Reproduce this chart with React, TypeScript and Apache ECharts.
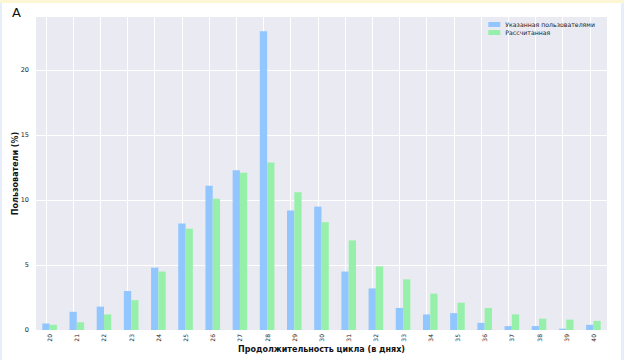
import React, { useEffect, useRef } from "react";
import * as echarts from "echarts";

const days = ["20","21","22","23","24","25","26","27","28","29","30","31","32","33","34","35","36","37","38","39","40"];
const reported = [0.5, 1.4, 1.8, 3.0, 4.8, 8.2, 11.1, 12.3, 23.0, 9.2, 9.5, 4.5, 3.2, 1.7, 1.2, 1.3, 0.55, 0.3, 0.3, 0.1, 0.4];
const calculated = [0.4, 0.6, 1.2, 2.3, 4.5, 7.8, 10.1, 12.1, 12.9, 10.6, 8.3, 6.9, 4.9, 3.9, 2.8, 2.1, 1.7, 1.2, 0.87, 0.8, 0.7];
const seriesNames = ["Указанная пользователями", "Рассчитанная"];
const xTitle = "Продолжительность цикла (в днях)";
const yTitle = "Пользователи (%)";
const panelLabel = "A";

export default function App() {
  const ref = useRef<HTMLDivElement>(null);
  useEffect(() => {
    if (!ref.current) return;
    const chart = echarts.init(ref.current, null, { renderer: "svg" });
    const font = "DejaVu Sans";
    chart.setOption({
      animation: false,
      backgroundColor: "#ffffff",
      textStyle: { fontFamily: font },
      grid: {
        left: 36, right: 17, top: 17, bottom: 30,
        outerBoundsMode: "none",
        containLabel: false,
        show: true, backgroundColor: "#eaeaf2", borderWidth: 0,
      },
      legend: {
        orient: "vertical",
        right: 24,
        top: 16,
        icon: "rect",
        itemWidth: 12,
        itemHeight: 5,
        itemGap: 1,
        textStyle: { fontSize: 6.2, lineHeight: 7, color: "#222", fontFamily: font },
        data: seriesNames,
      },
      graphic: [
        { type: "rect", shape: { x: 0, y: 0, width: 624, height: 3 }, style: { fill: "#fcf6d4" }, silent: true },
        { type: "rect", shape: { x: 0, y: 3, width: 2, height: 357 }, style: { fill: "#e6eef9" }, silent: true },
        { type: "rect", shape: { x: 621, y: 3, width: 3, height: 357 }, style: { fill: "#e6eef9" }, silent: true },
        {
          type: "text", left: 12, top: 6,
          style: { text: panelLabel, fontSize: 13, fill: "#111", fontFamily: font },
        },
      ],
      xAxis: {
        type: "category",
        data: days,
        boundaryGap: true,
        axisLine: { show: false },
        axisTick: { show: false },
        splitLine: { show: false },
        axisLabel: { rotate: 90, fontSize: 6, color: "#222", margin: 4, fontFamily: font },
        name: xTitle,
        nameLocation: "middle",
        nameGap: 15,
        nameMoveOverlap: false,
        nameTextStyle: { fontSize: 8, fontWeight: "bold", color: "#111", fontFamily: font },
      },
      yAxis: {
        type: "value",
        min: 0,
        max: 24.1,
        interval: 5,
        axisLine: { show: false },
        axisTick: { show: false },
        axisLabel: { fontSize: 6.5, color: "#222", margin: 7, showMaxLabel: false, fontFamily: font },
        splitLine: { show: true, showMaxLine: false, lineStyle: { color: "#ffffff", width: 1 } },
        name: yTitle,
        nameLocation: "middle",
        nameGap: 17,
        nameMoveOverlap: false,
        nameTextStyle: { fontSize: 8, fontWeight: "bold", color: "#111", fontFamily: font },
      },
      series: [
        {
          name: seriesNames[0],
          type: "bar",
          data: reported,
          barWidth: 7.3,
          barGap: "0%",
          itemStyle: { color: "#92c6ff" },
          markLine: {
            silent: true,
            symbol: "none",
            z: 1,
            label: { show: false },
            lineStyle: { color: "#ffffff", width: 1, type: "solid" },
            data: days.map((d) => ({ xAxis: d })),
          },
        },
        {
          name: seriesNames[1],
          type: "bar",
          data: calculated,
          barWidth: 7.3,
          barGap: "0%",
          itemStyle: { color: "#97f0aa" },
        },
      ],
    });
    return () => chart.dispose();
  }, []);
  return (
    <div
      ref={ref}
      style={{ position: "fixed", left: 0, top: 0, width: 624, height: 360 }}
    />
  );
}
